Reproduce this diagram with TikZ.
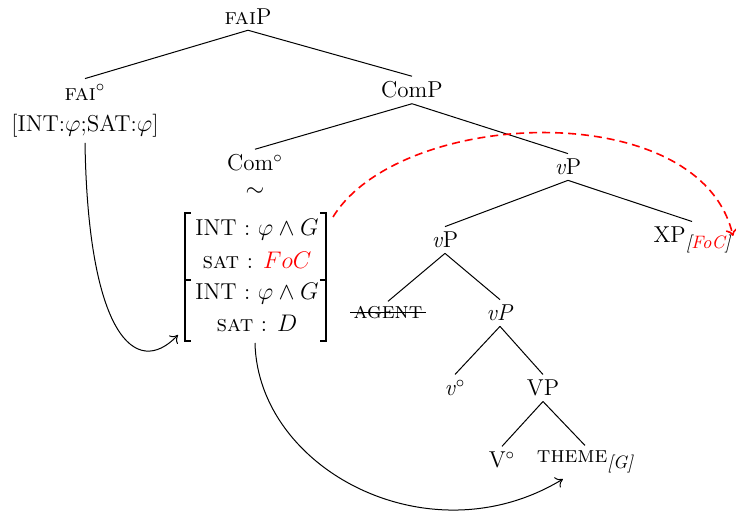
\documentclass[tikz,border=0pt]{standalone}
\usepackage{amsmath}
\usepackage{xcolor}
\usetikzlibrary{arrows.meta}
\newcommand{\featsub}[1]{\raisebox{-0.6ex}{\fontsize{9}{10}\selectfont\itshape[#1]}}
\begin{document}
\begin{tikzpicture}[x=0.5pt,y=-0.5pt,
  every node/.style={font=\fontsize{11.5}{14}\selectfont, inner sep=2.5pt},
  branch/.style={line width=0.5pt},
  brk/.style={line width=0.65pt},
  move/.style={line width=0.5pt,-{To[length=3.5pt,width=6pt]}},
  focus/.style={red,line width=0.8pt,dash pattern=on 4pt off 2.5pt,-{To[length=3.5pt,width=6pt]}}]
\useasboundingbox (0,0) rectangle (736,517);

% tree labels
\node (faiP) at (248,17) {\textsc{fai}P};
\node (fai) at (85,92) {\textsc{fai}$^{\circ}$};
\node (faifeat) at (85,126) {[INT:$\varphi$;SAT:$\varphi$]};
\node (comP) at (412,90) {ComP};
\node (com) at (255,163) {Com$^{\circ}$};
\node[inner sep=0pt] (tilde) at (255,192) {$\sim$};
\node (f1) at (257,230) {INT : $\varphi\wedge G$};
\node (f2) at (257,260) {\textsc{sat} : $\color{red}FoC$};
\node (f3) at (257,294) {INT : $\varphi\wedge G$};
\node (f4) at (257,323) {\textsc{sat} : $D$};
\node (vP1) at (568,167) {\textit{v}P};
\node (vP2) at (445,240) {\textit{v}P};
\node (xp) at (692,240) {XP\featsub{\textcolor{red}{FoC}}};
\node (agent) at (388,313) {\textsc{agent}};
\node (vP3) at (500,313) {\textit{vP}};
\node (v0) at (455,388) {\textit{v}$^{\circ}$};
\node (VP) at (543,388) {VP};
\node (V0) at (502,460) {V$^{\circ}$};
\node (theme) at (585,462) {\textsc{theme}\featsub{G}};

% branches
\draw[branch] (faiP.south) -- (fai.north);
\draw[branch] (faiP.south) -- (comP.north);
\draw[branch] (comP.south) -- (com.north);
\draw[branch] (comP.south) -- (vP1.north);
\draw[branch] (vP1.south) -- (vP2.north);
\draw[branch] (vP1.south) -- (xp.north);
\draw[branch] (vP2.south) -- (agent.north);
\draw[branch] (vP2.south) -- (vP3.north);
\draw[branch] (vP3.south) -- (v0.north);
\draw[branch] (vP3.south) -- (VP.north);
\draw[branch] (VP.south) -- (V0.north);
\draw[branch] (VP.south) -- (theme.north);

% struck-out agent
\draw[line width=0.5pt] ([xshift=1pt]agent.west) -- ([xshift=-1pt]agent.east);

% feature matrices
\draw[brk] (191,213) -- (185,213) -- (185,280) -- (191,280);
\draw[brk] (320,213) -- (326,213) -- (326,280) -- (320,280);
\draw[brk] (191,280) -- (185,280) -- (185,341) -- (191,341);
\draw[brk] (320,280) -- (326,280) -- (326,341) -- (320,341);

% connector ends
\coordinate (landing) at (178,335);
\coordinate (mbot) at (255,343);
\coordinate (themein) at (563,479);
\coordinate (mtop) at (333,217);
\coordinate (xpin) at (733,236);

% movement arrows
\draw[move] (faifeat.south) .. controls +(3,190) and +(-43,45) .. (landing);
\draw[move] (mbot) .. controls (258,470) and (430,560) .. (themein);
\draw[focus] (mtop) .. controls (400,108) and (700,95) .. (xpin);
\end{tikzpicture}
\end{document}
